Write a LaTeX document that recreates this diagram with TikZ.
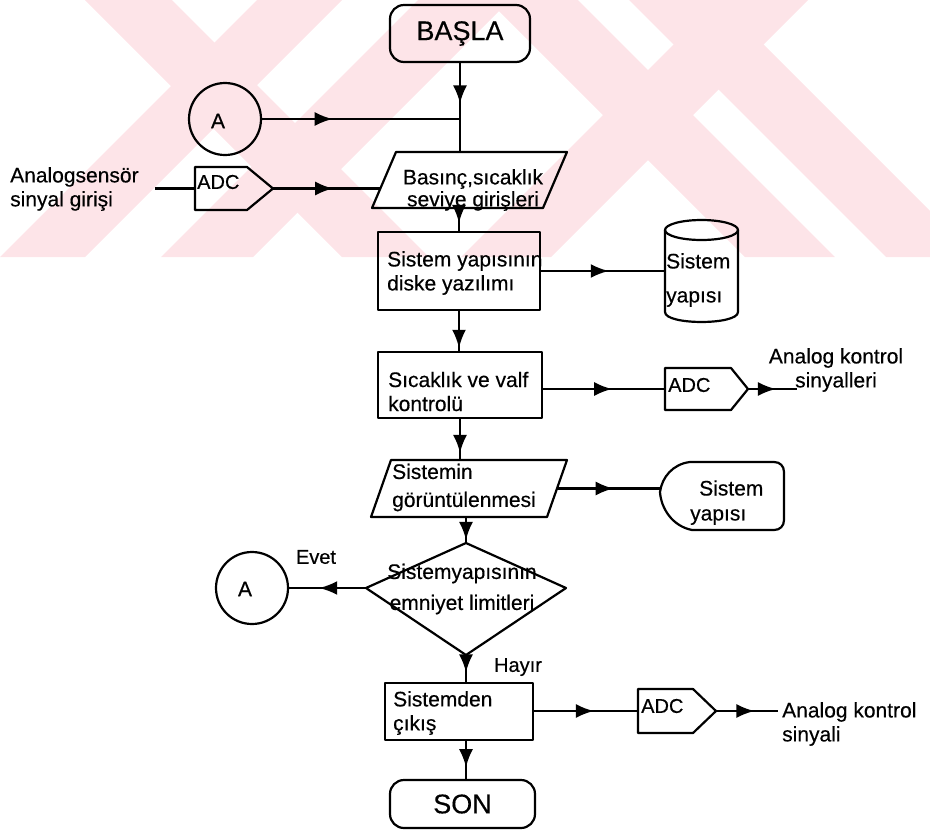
\documentclass[tikz,border=0pt]{standalone}
\usepackage{fontspec}
\setmainfont{Liberation Sans}[FakeBold=0.4]
\usetikzlibrary{arrows.meta,decorations.markings,calc}

\definecolor{wmpink}{RGB}{253,228,232}

\tikzset{
  outline/.style={draw=black, line width=2.2pt},
  conn/.style={draw=black, line width=2.2pt},
  arrowat/.style={decoration={markings, mark=at position #1 with {\arrow{Latex[length=18pt,width=14pt]}}}, postaction={decorate}},
  hold/.style={inner sep=0pt, outer sep=0pt, draw=none},
  procbox/.style={outline, inner sep=0pt, outer sep=0pt},
  startstop/.style={outline, rounded corners=14pt, inner sep=0pt, outer sep=0pt, font=\fontsize{27}{30}\selectfont},
  circ/.style={outline, circle, minimum size=72pt, inner sep=0pt, outer sep=0pt},
  txt/.style={inner sep=0pt, font=\fontsize{21}{24}\selectfont, align=left},
  adctxt/.style={inner sep=0pt, font=\fontsize{20}{24}\selectfont},
}

\begin{document}
\begin{tikzpicture}[x=1pt, y=-1pt, line join=round]
\useasboundingbox (0,0) rectangle (930,831);

% faint background stripes across the top band
\begin{scope}
  \clip (0,0) rectangle (930,257);
  \fill[wmpink] (85,0) -- (172,0) -- (429,257) -- (342,257) -- cycle;
  \fill[wmpink] (257,0) -- (342,0) -- (85,257) -- (0,257) -- cycle;
  \fill[wmpink] (418,0) -- (510,0) -- (253,257) -- (161,257) -- cycle;
  \fill[wmpink] (488,0) -- (578,0) -- (835,257) -- (745,257) -- cycle;
  \fill[wmpink] (718,0) -- (808,0) -- (551,257) -- (461,257) -- cycle;
  \fill[wmpink] (629,0) -- (719,0) -- (976,257) -- (886,257) -- cycle;
\end{scope}

% ---- start ----
\node[startstop, minimum width=140pt, minimum height=57pt] (start) at (460,33.5) {BAŞLA};

% ---- connector A (top) ----
\node[circ] (aTop) at (225,119) {};
\node[txt] (aTopT) at (218,121) {A};

% ---- input parallelogram ----
\node[hold, minimum width=171pt, minimum height=56pt] (p1) at (469.5,180) {};
\draw[outline] ($(p1.north west)+(12,0)$) -- ($(p1.north east)+(12,0)$)
  -- ($(p1.south east)+(-12,0)$) -- ($(p1.south west)+(-12,0)$) -- cycle;
\node[txt, align=center, font=\fontsize{21}{22}\selectfont] (p1t) at (473,190) {Basınç,sıcaklık\\seviye girişleri};
\coordinate (p1in) at (380.4,188.5);

% ---- ADC on the sensor input ----
\node[hold, minimum width=78pt, minimum height=43pt] (adc1) at (234,188.5) {};
\draw[outline] (adc1.north west) -- ($(adc1.north west)+(52,0)$) -- (adc1.east)
  -- ($(adc1.south west)+(52,0)$) -- (adc1.south west) -- cycle;
\node[adctxt, anchor=west] (adc1t) at (197,182) {ADC};
\node[txt, anchor=west] (src) at (10,189) {Analogsensör\\sinyal girişi};
\coordinate (srcEnd) at (155,188.5);

% ---- disk write ----
\node[procbox, minimum width=162pt, minimum height=78pt] (sys1) at (459,271) {};
\node[txt, anchor=west] (sys1t) at (387,273) {Sistem yapısının\\diske yazılımı};

% ---- stored data (cylinder) ----
\node[hold, minimum width=73pt, minimum height=102pt] (disk) at (701.5,271) {};
\draw[outline] (701.5,230) ellipse [x radius=36.5pt, y radius=10pt];
\draw[outline] (665,230) -- (665,312) .. controls (665,325.3) and (738,325.3) .. (738,312) -- (738,230);
\node[txt, anchor=west, font=\fontsize{21}{34}\selectfont] (diskt) at (666,280) {Sistem\\yapısı};

% ---- temperature / valve control ----
\node[procbox, minimum width=164pt, minimum height=66pt] (ctrl) at (460,385) {};
\node[txt, anchor=west] (ctrlt) at (388,391.5) {Sıcaklık ve valf\\kontrolü};

\node[hold, minimum width=83pt, minimum height=42pt] (adc2) at (706.5,389) {};
\draw[outline] (adc2.north west) -- ($(adc2.north west)+(66,0)$) -- (adc2.east)
  -- ($(adc2.south west)+(66,0)$) -- (adc2.south west) -- cycle;
\node[adctxt, anchor=west] (adc2t) at (668,385) {ADC};
\coordinate (out2) at (797,389);
\node[txt, align=center] (out2t) at (836,370) {Analog kontrol\\sinyalleri};

% ---- display parallelogram ----
\node[hold, minimum width=176pt, minimum height=57pt] (p2) at (469,488.5) {};
\draw[outline] ($(p2.north west)+(10,0)$) -- ($(p2.north east)+(10,0)$)
  -- ($(p2.south east)+(-10,0)$) -- ($(p2.south west)+(-10,0)$) -- cycle;
\node[txt, anchor=west, font=\fontsize{21}{28}\selectfont] (p2t) at (392,487.5) {Sistemin\\görüntülenmesi};

% ---- display symbol ----
\node[hold, minimum width=124pt, minimum height=68pt] (disp) at (722,496) {};
\draw[outline] (690,462) -- (774,462) .. controls (780,462) and (784,466) .. (784,472)
  -- (784,520) .. controls (784,526) and (780,530) .. (774,530) -- (692,530)
  .. controls (672,526) and (661,508) .. (660,492)
  .. controls (662,477) and (673,464) .. (690,462) -- cycle;
\node[txt, anchor=west] (dispt1) at (699,488) {Sistem};
\node[txt, anchor=west] (dispt2) at (690,517) {yapısı};

% ---- decision ----
\node[hold, minimum width=200pt, minimum height=112pt] (dec) at (466,599) {};
\draw[outline] (dec.north) -- ($(dec.east)+(0,-11)$) -- (dec.south) -- ($(dec.west)+(0,-11)$) -- cycle;
\coordinate (decL) at ($(dec.west)+(0,-11)$);
\node[txt, align=center, font=\fontsize{21}{31}\selectfont] (dect) at (462,589) {Sistemyapısının\\emniyet limitleri};

\node[circ] (aBot) at (252,588) {};
\node[txt] (aBotT) at (245,589) {A};
\node[txt, font=\fontsize{20}{24}\selectfont] (yes) at (316,557) {Evet};
\node[txt, font=\fontsize{20}{24}\selectfont] (no) at (518,667) {Hayır};

% ---- exit ----
\node[procbox, minimum width=148pt, minimum height=57pt] (exit) at (459,711.5) {};
\node[txt, anchor=west] (exitt) at (393,713) {Sistemden\\çıkış};

\node[hold, minimum width=78pt, minimum height=44pt] (adc3) at (677,711) {};
\draw[outline] (adc3.north west) -- ($(adc3.north west)+(55,0)$) -- (adc3.east)
  -- ($(adc3.south west)+(55,0)$) -- (adc3.south west) -- cycle;
\node[adctxt, anchor=west] (adc3t) at (641,706) {ADC};
\coordinate (out3) at (778,711);
\node[txt, anchor=west] (out3t) at (782,724) {Analog kontrol\\sinyali};

% ---- end ----
\node[startstop, minimum width=145pt, minimum height=48pt] (son) at (462.5,804) {SON};

% ---- connectors ----
\coordinate (jn) at (start.south |- aTop.east);
\draw[conn, arrowat=0.46] (start.south) -- (start.south |- p1.north);
\draw[conn, arrowat=0.36] (aTop.east) -- (jn);
\draw[conn] (srcEnd) -- (adc1.west);
\draw[conn, arrowat=0.56] (adc1.east) -- (p1in);
\draw[conn, arrowat=0.62] (sys1.north |- p1.south) -- (sys1.north);
\draw[conn, arrowat=0.55] (sys1.east) -- (sys1.east -| disk.west);
\draw[conn, arrowat=0.9] (sys1.south) -- (sys1.south |- ctrl.north);
\draw[conn, arrowat=0.57] (ctrl.east |- adc2.west) -- (adc2.west);
\draw[conn, arrowat=0.57] (adc2.east) -- (out2);
\draw[conn, arrowat=0.83] (ctrl.south) -- (ctrl.south |- p2.north);
\draw[conn, arrowat=0.55] (p2.east) -- (p2.east -| disp.west);
\draw[conn, arrowat=0.88] (dec.north |- p2.south) -- (dec.north);
\draw[conn, arrowat=0.6] (decL) -- (aBot.east);
\draw[conn, arrowat=0.62] (dec.south) -- (dec.south |- exit.north);
\draw[conn, arrowat=0.58] (exit.east |- adc3.west) -- (adc3.west);
\draw[conn, arrowat=0.62] (adc3.east) -- (out3);
\draw[conn, arrowat=0.68] (dec.south |- exit.south) -- (dec.south |- son.north);

\end{tikzpicture}
\end{document}
